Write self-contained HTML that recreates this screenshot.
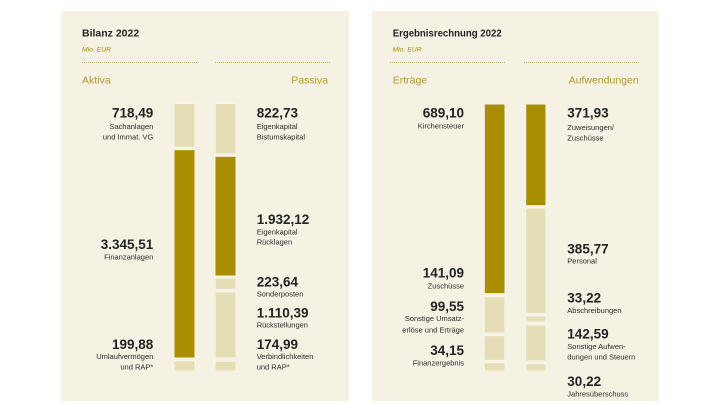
<!DOCTYPE html>
<html><head><meta charset="utf-8"><style>
html,body{margin:0;padding:0;background:#fff;}
svg{display:block;}
text{font-family:"Liberation Sans",sans-serif;}
.t{font-weight:bold;font-size:10.5px;fill:#222;}
.m{font-style:italic;font-size:6.8px;fill:#a89000;}
.h{font-size:10.5px;fill:#b39c22;}
.n{font-weight:bold;font-size:13.5px;fill:#232323;}
.l{font-size:7.5px;fill:#2b2b2b;}
.d{fill:#a88e00;stroke:#f9f6ea;stroke-width:1;}
.g{fill:#e4ddb5;stroke:#f9f6ea;stroke-width:1;}
.dot{stroke:#c9b860;stroke-width:1;stroke-dasharray:1 1;}
</style></head><body>
<svg width="720" height="405" viewBox="0 0 720 405" xmlns="http://www.w3.org/2000/svg">
<rect x="0" y="0" width="720" height="405" fill="#fff"/>
<rect x="61" y="11" width="288" height="390" fill="#f5f1e3"/>
<rect x="372" y="11" width="287" height="390" fill="#f5f1e3"/>

<!-- Panel 1 -->
<text class="t" x="82" y="36.5">Bilanz 2022</text>
<text class="m" x="82" y="51.5">Mio. EUR</text>
<line class="dot" x1="82" y1="62.5" x2="197" y2="62.5"/>
<line class="dot" x1="215" y1="62.5" x2="331" y2="62.5"/>
<text class="h" x="82" y="83.3">Aktiva</text>
<text class="h" x="328" y="83.3" text-anchor="end">Passiva</text>

<rect class="g" x="174" y="103.5" width="21" height="44"/>
<rect class="d" x="174" y="149.7" width="21" height="208.3"/>
<rect class="g" x="174" y="360.7" width="21" height="10.3"/>

<rect class="g" x="215" y="103.5" width="21" height="50.5"/>
<rect class="d" x="215" y="156.3" width="21" height="119.7"/>
<rect class="g" x="215" y="278" width="21" height="11.3"/>
<rect class="g" x="215" y="292" width="21" height="66"/>
<rect class="g" x="215" y="361.3" width="21" height="9.7"/>

<g text-anchor="end">
<text class="n" x="153.3" y="117.3">718,49</text>
<text class="l" x="153.3" y="129">Sachanlagen</text>
<text class="l" x="153.3" y="139.7">und Immat. VG</text>
<text class="n" x="153.3" y="249">3.345,51</text>
<text class="l" x="153.3" y="259.3">Finanzanlagen</text>
<text class="n" x="153.3" y="349">199,88</text>
<text class="l" x="153.3" y="359">Umlaufvermögen</text>
<text class="l" x="153.3" y="369.7">und RAP*</text>
</g>
<g>
<text class="n" x="256.7" y="117.3">822,73</text>
<text class="l" x="256.7" y="129">Eigenkapital</text>
<text class="l" x="256.7" y="139.7">Bistumskapital</text>
<text class="n" x="256.7" y="224">1.932,12</text>
<text class="l" x="256.7" y="234.3">Eigenkapital</text>
<text class="l" x="256.7" y="244.7">Rücklagen</text>
<text class="n" x="256.7" y="286.7">223,64</text>
<text class="l" x="256.7" y="296.3">Sonderposten</text>
<text class="n" x="256.7" y="317.3">1.110,39</text>
<text class="l" x="256.7" y="327.7">Rückstellungen</text>
<text class="n" x="256.7" y="349">174,99</text>
<text class="l" x="256.7" y="359">Verbindlichkeiten</text>
<text class="l" x="256.7" y="369.7">und RAP*</text>
</g>

<!-- Panel 2 -->
<text class="t" x="392.7" y="36.5" textLength="109" lengthAdjust="spacingAndGlyphs">Ergebnisrechnung 2022</text>
<text class="m" x="392.5" y="51.5">Mio. EUR</text>
<line class="dot" x1="390" y1="62.5" x2="505" y2="62.5"/>
<line class="dot" x1="524" y1="62.5" x2="639" y2="62.5"/>
<text class="h" x="392.7" y="83.3">Erträge</text>
<text class="h" x="638.7" y="83.3" text-anchor="end">Aufwendungen</text>

<rect class="d" x="484.3" y="104" width="20.7" height="189.7"/>
<rect class="g" x="484.3" y="296.7" width="20.7" height="36.3"/>
<rect class="g" x="484.3" y="335.7" width="20.7" height="24.6"/>
<rect class="g" x="484.3" y="362.7" width="20.7" height="8.3"/>

<rect class="d" x="525.7" y="104" width="20.3" height="101.7"/>
<rect class="g" x="525.7" y="208" width="20.3" height="105.3"/>
<rect class="g" x="525.7" y="316" width="20.3" height="6"/>
<rect class="g" x="525.7" y="325" width="20.3" height="36"/>
<rect class="g" x="525.7" y="363.7" width="20.3" height="7.3"/>

<g text-anchor="end">
<text class="n" x="464" y="117.3">689,10</text>
<text class="l" x="464" y="128.7">Kirchensteuer</text>
<text class="n" x="464" y="277.3">141,09</text>
<text class="l" x="464" y="288.3">Zuschüsse</text>
<text class="n" x="464" y="311">99,55</text>
<text class="l" x="464" y="321">Sonstige Umsatz-</text>
<text class="l" x="464" y="332.3">erlöse und Erträge</text>
<text class="n" x="464" y="355">34,15</text>
<text class="l" x="464" y="365.7">Finanzergebnis</text>
</g>
<g>
<text class="n" x="567.3" y="117.3">371,93</text>
<text class="l" x="567.3" y="130">Zuweisungen/</text>
<text class="l" x="567.3" y="140.7">Zuschüsse</text>
<text class="n" x="567.3" y="253.3">385,77</text>
<text class="l" x="567.3" y="263.3">Personal</text>
<text class="n" x="567.3" y="302.3">33,22</text>
<text class="l" x="567.3" y="313">Abschreibungen</text>
<text class="n" x="567.3" y="338.3">142,59</text>
<text class="l" x="567.3" y="349">Sonstige Aufwen-</text>
<text class="l" x="567.3" y="359.3">dungen und Steuern</text>
<text class="n" x="567.3" y="386">30,22</text>
<text class="l" x="567.3" y="396.7">Jahresüberschuss</text>
</g>
</svg>
</body></html>
